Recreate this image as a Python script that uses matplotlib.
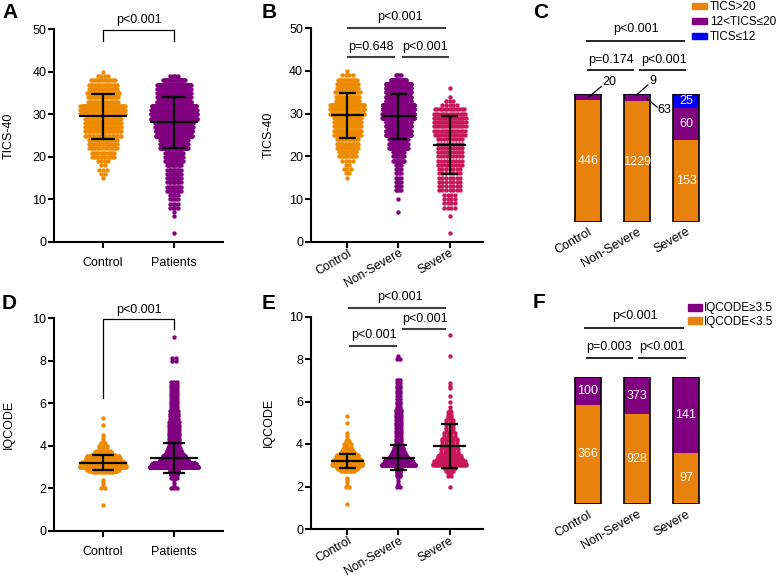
import numpy as np
import matplotlib
matplotlib.use('Agg')
import matplotlib.pyplot as plt
from matplotlib.patches import Patch

plt.rcParams['font.family'] = ['Liberation Sans', 'DejaVu Sans']
plt.rcParams['font.size'] = 9
plt.rcParams['axes.linewidth'] = 1.5

# ---------------- data ----------------
groups2 = ['Control', 'Patients']
groups3 = ['Control', 'Non-Severe', 'Severe']

# TICS-40 score -> number of subjects
tics_ctrl_vals = list(range(15, 41))
tics_ctrl_counts = [1, 2, 3, 2, 4, 11, 11, 17, 17, 17, 28, 28, 28, 28, 28,
                    43, 43, 43, 19, 19, 22, 17, 17, 13, 4, 1]
tics_ns_vals = [7, 10] + list(range(12, 40))
tics_ns_counts = [1, 1, 4, 4, 4, 4, 4, 4, 4, 12, 12, 12, 37, 37, 37,
                  70, 70, 70, 70, 116, 116, 115, 115, 70, 70, 70, 70, 70, 28, 4]
tics_sev_vals = [2, 6] + list(range(8, 35)) + [36]
tics_sev_counts = [1, 1, 4, 4, 4, 4, 7, 7, 7, 7, 7, 7, 9, 9, 9, 9, 9, 9, 9,
                   14, 15, 16, 16, 16, 15, 13, 5, 3, 1, 1]

# IQCODE score -> number of subjects
iq_ctrl_vals = [1.19, 2.0, 2.06, 2.19, 2.31, 2.38, 2.75, 2.81, 2.88, 2.94,
                3.0, 3.06, 3.12, 3.19, 3.25, 3.31, 3.38, 3.44, 3.5, 3.56,
                3.62, 3.69, 3.75, 3.88, 4.0, 4.12, 4.25, 4.38, 4.5, 5.0, 5.31]
iq_ctrl_counts = [1, 2, 1, 1, 1, 1, 10, 19, 23, 26,
                  50, 48, 46, 45, 42, 28, 27, 26, 24, 14,
                  7, 6, 5, 3, 3, 2, 1, 1, 1, 1, 1]
iq_ns_vals = [2.0, 2.06, 2.12, 2.25, 2.38, 2.5, 2.56, 2.62, 2.69, 2.75, 2.81, 2.88, 2.94,
              3.0, 3.06, 3.12, 3.19, 3.25, 3.31, 3.38, 3.44, 3.5, 3.56, 3.62, 3.69, 3.75,
              3.81, 3.88, 3.94, 4.0,
              4.12, 4.25, 4.38, 4.5, 4.62, 4.75, 4.88, 5.0, 5.12, 5.25, 5.38, 5.5, 5.62,
              5.75, 5.88, 6.0, 6.12, 6.25, 6.38, 6.5, 6.62, 6.75, 6.88, 7.0, 8.0, 8.12]
iq_ns_counts = [2, 1, 1, 1, 1, 2, 2, 3, 3, 3, 3, 4, 4,
                215, 190, 174, 150, 80, 70, 60, 50, 40, 30, 25, 20, 16,
                13, 10, 8, 6,
                6, 6, 6, 6, 6, 6, 6, 6, 6, 6, 6, 6, 6,
                3, 3, 3, 3, 3, 3, 3, 3, 3, 3, 3, 2, 1]
iq_sev_vals = [2.0, 2.5, 2.62, 2.75, 2.81, 2.88, 2.94,
               3.0, 3.06, 3.12, 3.19, 3.25, 3.31, 3.38, 3.44, 3.5,
               3.62, 3.75, 3.88, 4.0, 4.12, 4.25,
               4.38, 4.5, 4.62, 4.75, 4.88, 5.0, 5.12, 5.25, 5.38, 5.5,
               5.62, 5.75, 6.0, 6.25, 6.62, 6.75, 6.88, 8.12, 9.12]
iq_sev_counts = [1, 2, 2, 3, 3, 4, 4,
                 23, 24, 22, 20, 14, 13, 12, 11, 10,
                 6, 6, 5, 5, 5, 5,
                 4, 4, 3, 3, 3, 3, 3, 2, 2, 2,
                 1, 1, 1, 1, 1, 1, 1, 1, 1]

# mean and SD as drawn
tics_mean_A = [29.6, 28.2]
tics_sd_A = [5.3, 6.0]
tics_mean_B = [29.6, 29.35, 22.65]
tics_sd_B = [5.3, 5.25, 6.85]
iq_mean_D = [3.2, 3.44]
iq_sd_D = [0.35, 0.70]
iq_mean_E = [3.2, 3.36, 3.9]
iq_sd_E = [0.35, 0.59, 1.04]

# category counts for stacked bars
tics_gt20 = [446, 1229, 153]
tics_12_20 = [20, 63, 60]
tics_le12 = [0, 9, 25]
iq_lt35 = [366, 928, 97]
iq_ge35 = [100, 373, 141]

ORANGE = '#EE8A00'
BAR_ORANGE = '#E8820C'
PURPLE = '#800080'
CRIMSON = '#C8185A'
BLUE = '#0000FF'
LINEGREY = '#404040'


def merge(v1, c1, v2, c2):
    # patients = non-severe + severe
    d = {}
    for v, c in list(zip(v1, c1)) + list(zip(v2, c2)):
        d[v] = d.get(v, 0) + c
    keys = sorted(d)
    return keys, [d[k] for k in keys]


def swarm(ax, vals, counts, xc, color, hw_px, unit_px, d_px=3.6):
    cmax = max(counts)
    xs, ys = [], []
    for v, c in zip(vals, counts):
        if c == 0:
            continue
        w = min((c - 1) * d_px / 2.0, hw_px * (c / cmax) ** 0.5) / unit_px
        xs.extend(xc + np.linspace(-w, w, c))
        ys.extend([v] * c)
    ax.scatter(xs, ys, s=10, color=color, linewidths=0, zorder=2, clip_on=False)


def mean_sd(ax, xc, m, s, mean_hw=0.33, cap_hw=0.17):
    kw = dict(color='k', lw=1.6, zorder=4)
    ax.hlines(m, xc - mean_hw, xc + mean_hw, **kw)
    ax.vlines(xc, m - s, m + s, **kw)
    ax.hlines([m - s, m + s], xc - cap_hw, xc + cap_hw, **kw)


def style_dot_axes(ax, ymax, ystep, labels, rot):
    for sp in ['top', 'right']:
        ax.spines[sp].set_visible(False)
    ax.set_ylim(0, ymax)
    ax.set_yticks(np.arange(0, ymax + 0.01, ystep))
    ax.set_xticks(range(len(labels)))
    ax.tick_params(axis='both', width=1.5, length=4, labelsize=9)
    ax.tick_params(axis='y', pad=1.5)
    if rot:
        ax.set_xticklabels(labels, rotation=30, ha='right', rotation_mode='anchor', fontsize=8.7)
        ax.tick_params(axis='x', pad=0)
    else:
        ax.set_xticklabels(labels)
        ax.tick_params(axis='x', pad=7)


def pline(ax, x0, x1, y, ytxt, txt, xtxt=None, color=LINEGREY, lw=1.5):
    ax.plot([x0, x1], [y, y], color=color, lw=lw, clip_on=False, solid_capstyle='butt')
    if xtxt is None:
        xtxt = (x0 + x1) / 2.0
    ax.text(xtxt, ytxt, txt, ha='center', va='center', fontsize=9)


fig = plt.figure(figsize=(7.78, 5.78), dpi=100)
W, H = 778.0, 578.0


def add_axes(l, r, b, t):
    return fig.add_axes([l / W, 1 - b / H, (r - l) / W, (b - t) / H])


pat_vals, pat_counts = merge(tics_ns_vals, tics_ns_counts, tics_sev_vals, tics_sev_counts)
ipat_vals, ipat_counts = merge(iq_ns_vals, iq_ns_counts, iq_sev_vals, iq_sev_counts)

# ---------------- A ----------------
axA = add_axes(54, 223, 242, 29.3)
axA.set_xlim(-0.69, 1.69)
swarm(axA, tics_ctrl_vals, tics_ctrl_counts, 0, ORANGE, 22.5, 71)
swarm(axA, pat_vals, pat_counts, 1, PURPLE, 23, 71)
for i in range(2):
    mean_sd(axA, i, tics_mean_A[i], tics_sd_A[i], 0.34, 0.17)
style_dot_axes(axA, 50, 10, groups2, False)
axA.set_ylabel('TICS-40', fontsize=9)
axA.yaxis.set_label_coords(-0.23, 0.5)
axA.plot([0, 0, 1, 1], [47.3, 49.8, 49.8, 47.3], color='k', lw=0.9, clip_on=False)
axA.text(0.5, 52.3, 'p<0.001', ha='center', va='center', fontsize=9)

# ---------------- B ----------------
axB = add_axes(310.7, 482.7, 241.7, 28.3)
axB.set_xlim(-0.72, 2.65)
swarm(axB, tics_ctrl_vals, tics_ctrl_counts, 0, ORANGE, 17, 51)
swarm(axB, tics_ns_vals, tics_ns_counts, 1, PURPLE, 16, 51)
swarm(axB, tics_sev_vals, tics_sev_counts, 2, CRIMSON, 16, 51)
for i in range(3):
    mean_sd(axB, i, tics_mean_B[i], tics_sd_B[i])
style_dot_axes(axB, 50, 10, groups3, True)
axB.set_ylabel('TICS-40', fontsize=9)
axB.yaxis.set_label_coords(-0.208, 0.5)
pline(axB, 0, 1.93, 50, 52.6, 'p<0.001', 1.03)
pline(axB, 0, 0.935, 43.2, 45.7, 'p=0.648', 0.46)
pline(axB, 1.067, 1.98, 43.2, 45.7, 'p<0.001', 1.52)

# ---------------- D ----------------
axD = add_axes(54, 223, 530.7, 318.3)
axD.set_xlim(-0.69, 1.69)
swarm(axD, iq_ctrl_vals, iq_ctrl_counts, 0, ORANGE, 23, 71)
swarm(axD, ipat_vals, ipat_counts, 1, PURPLE, 24, 71)
for i in range(2):
    mean_sd(axD, i, iq_mean_D[i], iq_sd_D[i], 0.335, 0.16)
style_dot_axes(axD, 10, 2, groups2, False)
axD.set_ylabel('IQCODE', fontsize=9)
axD.yaxis.set_label_coords(-0.23, 0.5)
axD.plot([0, 0, 1, 1], [6.23, 9.97, 9.97, 9.48], color='k', lw=0.9, clip_on=False)
axD.text(0.5, 10.39, 'p<0.001', ha='center', va='center', fontsize=9)

# ---------------- E ----------------
axE = add_axes(310.7, 482.7, 529, 316.5)
axE.set_xlim(-0.72, 2.65)
swarm(axE, iq_ctrl_vals, iq_ctrl_counts, 0, ORANGE, 15, 51)
swarm(axE, iq_ns_vals, iq_ns_counts, 1, PURPLE, 16.5, 51)
swarm(axE, iq_sev_vals, iq_sev_counts, 2, CRIMSON, 16.5, 51)
for i in range(3):
    mean_sd(axE, i, iq_mean_E[i], iq_sd_E[i], 0.33, 0.16)
style_dot_axes(axE, 10, 2, groups3, True)
axE.set_ylabel('IQCODE', fontsize=9)
axE.yaxis.set_label_coords(-0.208, 0.5)
pline(axE, 0.02, 1.94, 10.39, 10.9, 'p<0.001', 1.03)
pline(axE, 1.067, 1.94, 9.40, 9.9, 'p<0.001', 1.52)
pline(axE, 0.04, 0.968, 8.62, 9.12, 'p<0.001', 0.51)


# ---------------- stacked bars ----------------
def style_bar_axes(ax):
    for sp in ax.spines.values():
        sp.set_visible(False)
    ax.set_xlim(-0.571, 2.694)
    ax.set_ylim(0, 1)
    ax.set_yticks([])
    ax.set_xticks(range(3))
    ax.set_xticklabels(groups3, rotation=30, ha='right', rotation_mode='anchor', fontsize=9)
    ax.tick_params(axis='x', length=0, pad=3)


def stacked(ax, layers, colors):
    totals = np.sum(layers, axis=0).astype(float)
    bottom = np.zeros(3)
    for vals, col in zip(layers, colors):
        frac = np.array(vals) / totals
        ax.bar(range(3), frac, 0.53, bottom=bottom, color=col, linewidth=0, zorder=2)
        bottom = bottom + frac
    ax.bar(range(3), bottom, 0.53, fill=False, edgecolor='k', linewidth=1.2, zorder=3)
    return totals


# C
axC = add_axes(560, 720, 221.7, 94.3)
style_bar_axes(axC)
tot = stacked(axC, [tics_gt20, tics_12_20, tics_le12], [BAR_ORANGE, PURPLE, BLUE])
for i in range(3):
    f0 = tics_gt20[i] / tot[i]
    axC.text(i, f0 / 2, str(tics_gt20[i]), color='white', ha='center', va='center', fontsize=9, zorder=5)
axC.text(2, tics_gt20[2] / tot[2] + tics_12_20[2] / tot[2] / 2, str(tics_12_20[2]),
         color='white', ha='center', va='center', fontsize=9, zorder=5)
axC.text(2, 1 - tics_le12[2] / tot[2] / 2, str(tics_le12[2]),
         color='white', ha='center', va='center', fontsize=9, zorder=5)
# small segments with leader lines
axC.plot([0.0, 0.27], [0.975, 1.06], color='k', lw=0.9, clip_on=False, zorder=5)
axC.text(0.3, 1.1, str(tics_12_20[0]), ha='left', va='center', fontsize=9)
axC.plot([0.99, 1.22], [0.995, 1.073], color='k', lw=0.9, clip_on=False, zorder=5)
axC.text(1.245, 1.108, str(tics_le12[1]), ha='left', va='center', fontsize=9)
axC.plot([1.2, 1.41], [0.965, 0.9], color='k', lw=0.9, clip_on=False, zorder=5)
axC.text(1.42, 0.878, str(tics_12_20[1]), ha='left', va='center', fontsize=9)
pline(axC, -0.04, 1.98, 1.418, 1.51, 'p<0.001', 0.97, color='k', lw=1.2)
pline(axC, -0.03, 0.945, 1.188, 1.27, 'p=0.174', 0.46, color='k', lw=1.2)
pline(axC, 1.047, 2.01, 1.188, 1.27, 'p<0.001', 1.55, color='k', lw=1.2)
fig.legend(handles=[Patch(color=BAR_ORANGE, label='TICS>20'),
                    Patch(color=PURPLE, label='12<TICS≤20'),
                    Patch(color=BLUE, label='TICS≤12')],
           loc='upper left', bbox_to_anchor=(691.7 / W, 1 - 1.0 / H), frameon=False,
           fontsize=8.5, borderpad=0, borderaxespad=0, handlelength=1.33,
           handleheight=0.45, handletextpad=0.2, labelspacing=0.25)

# F
axF = add_axes(560, 720, 504.3, 377.3)
style_bar_axes(axF)
tot = stacked(axF, [iq_lt35, iq_ge35], [BAR_ORANGE, PURPLE])
for i in range(3):
    f0 = iq_lt35[i] / tot[i]
    axF.text(i, f0 / 2, str(iq_lt35[i]), color='white', ha='center', va='center', fontsize=9, zorder=5)
    axF.text(i, f0 + (1 - f0) / 2, str(iq_ge35[i]), color='white', ha='center', va='center',
             fontsize=9, zorder=5)
pline(axF, -0.075, 1.96, 1.386, 1.483, 'p<0.001', 0.95, color='k', lw=1.2)
pline(axF, -0.047, 0.912, 1.154, 1.236, 'p=0.003', 0.43, color='k', lw=1.2)
pline(axF, 1.027, 1.994, 1.154, 1.236, 'p<0.001', 1.51, color='k', lw=1.2)
fig.legend(handles=[Patch(color=PURPLE, label='IQCODE≥3.5'),
                    Patch(color=BAR_ORANGE, label='IQCODE<3.5')],
           loc='upper left', bbox_to_anchor=(687.7 / W, 1 - 302.5 / H), frameon=False,
           fontsize=8.5, borderpad=0, borderaxespad=0, handlelength=1.2,
           handleheight=0.48, handletextpad=0.2, labelspacing=0.1)

# panel letters
for letter, x, y in [('A', 2, 3), ('B', 262, 3), ('C', 533, 3),
                     ('D', 2, 294), ('E', 262, 294), ('F', 533, 293)]:
    fig.text(x / W, 1 - y / H, letter, fontsize=15, fontweight='bold', va='top', ha='left')

fig.savefig('out.png', dpi=100)
